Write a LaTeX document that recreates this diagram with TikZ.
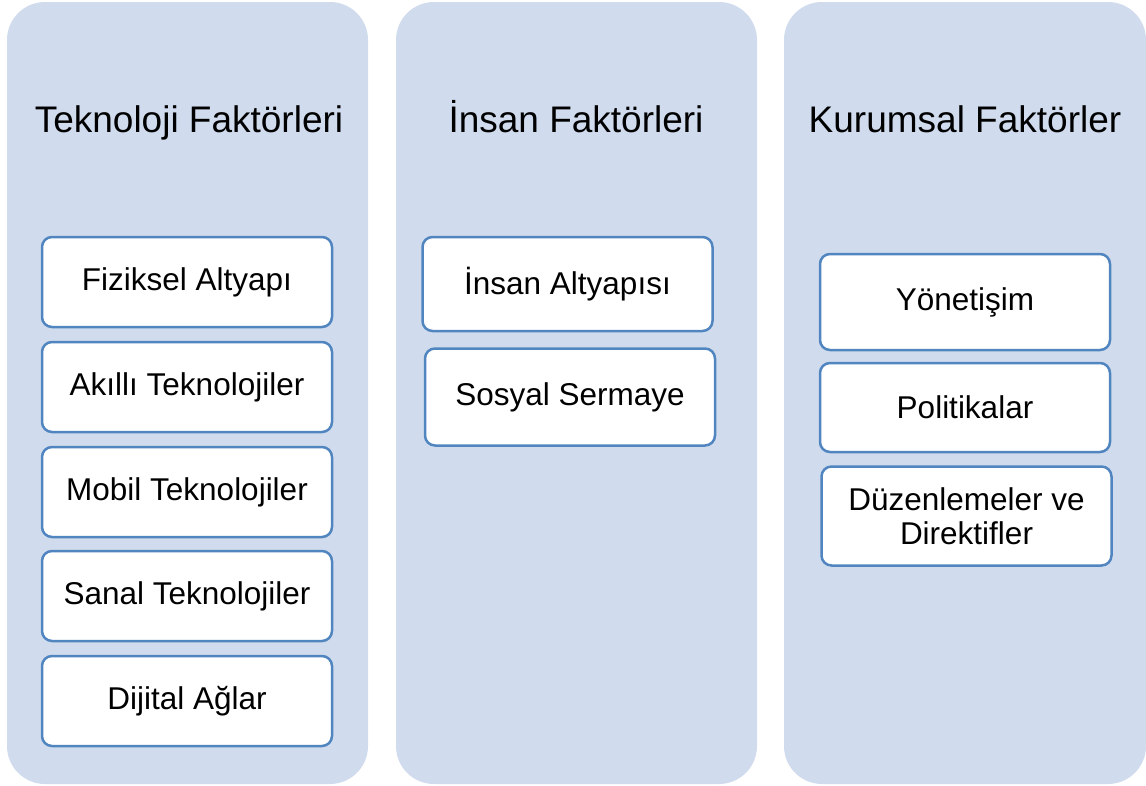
\documentclass[tikz,border=0pt]{standalone}
\usepackage{fontspec}
\setmainfont{Liberation Sans}
\definecolor{panelfill}{HTML}{D0DCEE}
\definecolor{boxline}{HTML}{5185BF}
\begin{document}
\begin{tikzpicture}[x=1pt,y=-1pt,
  panel/.style={fill=panelfill, draw=none, rounded corners=38pt, inner sep=0pt, outer sep=0pt},
  heading/.style={font=\fontsize{37}{41}\selectfont, text=black, inner sep=0pt, anchor=base},
  item/.style={draw=boxline, line width=2.5pt, fill=white, rounded corners=10pt,
    minimum width=290pt, inner sep=0pt, outer sep=0pt, align=center,
    font=\fontsize{31.5}{36}\selectfont}
]
\useasboundingbox (0,0) rectangle (1146,785);
\fill[white] (0,0) rectangle (1146,785);

% three category panels
\node[panel, minimum width=361pt, minimum height=782pt] (p1) at (187.5,393) {};
\node[panel, minimum width=361pt, minimum height=782pt] (p2) at (576.5,393) {};
\node[panel, minimum width=362pt, minimum height=782pt] (p3) at (965,393) {};

% panel headings, on a common baseline
\node[heading] (h1) at (189,132) {Teknoloji Faktörleri};
\node[heading] (h2) at (576,132) {İnsan Faktörleri};
\node[heading] (h3) at (965,132) {Kurumsal Faktörler};

% technology factors
\node[item, minimum height=90pt] (t1) at (187,282) {Fiziksel Altyapı};
\node[item, minimum height=90pt] (t2) at (187,387) {Akıllı Teknolojiler};
\node[item, minimum height=90pt] (t3) at (187,492) {Mobil Teknolojiler};
\node[item, minimum height=90pt] (t4) at (187,596) {Sanal Teknolojiler};
\node[item, minimum height=90pt] (t5) at (187,701) {Dijital Ağlar};

% human factors
\node[item, minimum height=94pt] (i1) at (567.5,284) {İnsan Altyapısı};
\node[item, minimum height=97pt] (i2) at (570,397) {Sosyal Sermaye};

% institutional factors
\node[item, minimum height=96pt] (k1) at (965,302) {Yönetişim};
\node[item, minimum height=89pt] (k2) at (965,407.5) {Politikalar};
\node[item, minimum height=99pt] (k3) at (966.5,516) {Düzenlemeler ve\\[-2pt]Direktifler};
\end{tikzpicture}
\end{document}
